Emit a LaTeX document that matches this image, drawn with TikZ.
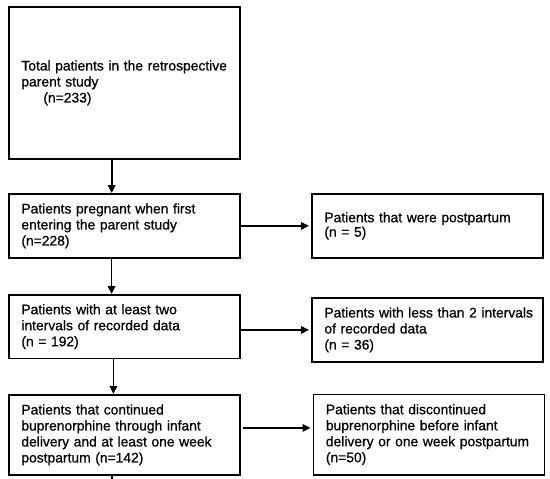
\documentclass[tikz,border=0pt]{standalone}
\usepackage{fontspec}
\setmainfont{Liberation Sans}[FakeBold=0.7]
\usetikzlibrary{arrows.meta}
\newcommand\Ln[1]{\mbox{#1}}
\begin{document}
\begin{tikzpicture}[x=1pt,y=-1pt,
  box/.style={draw=black,line width=1.8pt,anchor=north west,align=left,
    inner ysep=0pt,inner xsep=12.5pt,minimum width=231pt,text width=206pt,
    font=\fontsize{13.85}{16}\selectfont},
  arr/.style={line width=1.7pt,-{Triangle[length=8pt,width=7.5pt]}}]
\useasboundingbox (0,0) rectangle (550,479);
\node[box,minimum height=152pt] (b1) at (8,6)
  {\Ln{Total patients in the retrospective}\\\Ln{parent study}\\\hspace*{22pt}(n=233)};
\node[box,minimum height=64pt] (b2) at (8,193)
  {\Ln{Patients pregnant when first}\\\Ln{entering the parent study}\\(n=228)};
\node[box,minimum height=64pt,font=\fontsize{13.85}{14.5}\selectfont] (r2) at (311,193)
  {\Ln{Patients that were postpartum}\\(n = 5)};
\node[box,minimum height=63.5pt] (b3) at (8,294)
  {\Ln{Patients with at least two}\\\Ln{intervals of recorded data}\\(n = 192)};
\node[box,minimum height=64pt] (r3) at (311,297)
  {\Ln{Patients with less than 2 intervals}\\\Ln{of recorded data}\\(n = 36)};
\node[box,minimum height=80pt] (b4) at (8,394)
  {\Ln{Patients that continued}\\\Ln{buprenorphine through infant}\\\Ln{delivery and at least one week}\\\Ln{postpartum (n=142)}};
\node[box,minimum height=80.5pt] (r4) at (312.5,393.5)
  {\Ln{Patients that discontinued}\\\Ln{buprenorphine before infant}\\\Ln{delivery or one week postpartum}\\(n=50)};
\coordinate (a4s) at ([xshift=2.5pt,yshift=7pt]b4.east);
\coordinate (stub) at ([xshift=-12.7pt]b4.south |- 0,479);
\draw[arr] ([xshift=-12.7pt]b1.south) -- ([xshift=-12.7pt]b1.south |- b2.north);
\draw[arr] ([xshift=-12.8pt]b2.south) -- ([xshift=-12.8pt]b2.south |- b3.north);
\draw[arr] ([xshift=-11pt]b3.south) -- ([xshift=-11pt]b3.south |- b4.north);
\draw[arr,shorten >=2pt] (b2.east) -- (b2.east -| r2.west);
\draw[arr,shorten >=2pt] (b3.east |- r3.west) -- (r3.west);
\draw[arr,shorten >=2pt] (a4s) -- (a4s -| r4.west);
\draw[line width=1.7pt] ([xshift=-12.7pt]b4.south) -- (stub);
\end{tikzpicture}
\end{document}
